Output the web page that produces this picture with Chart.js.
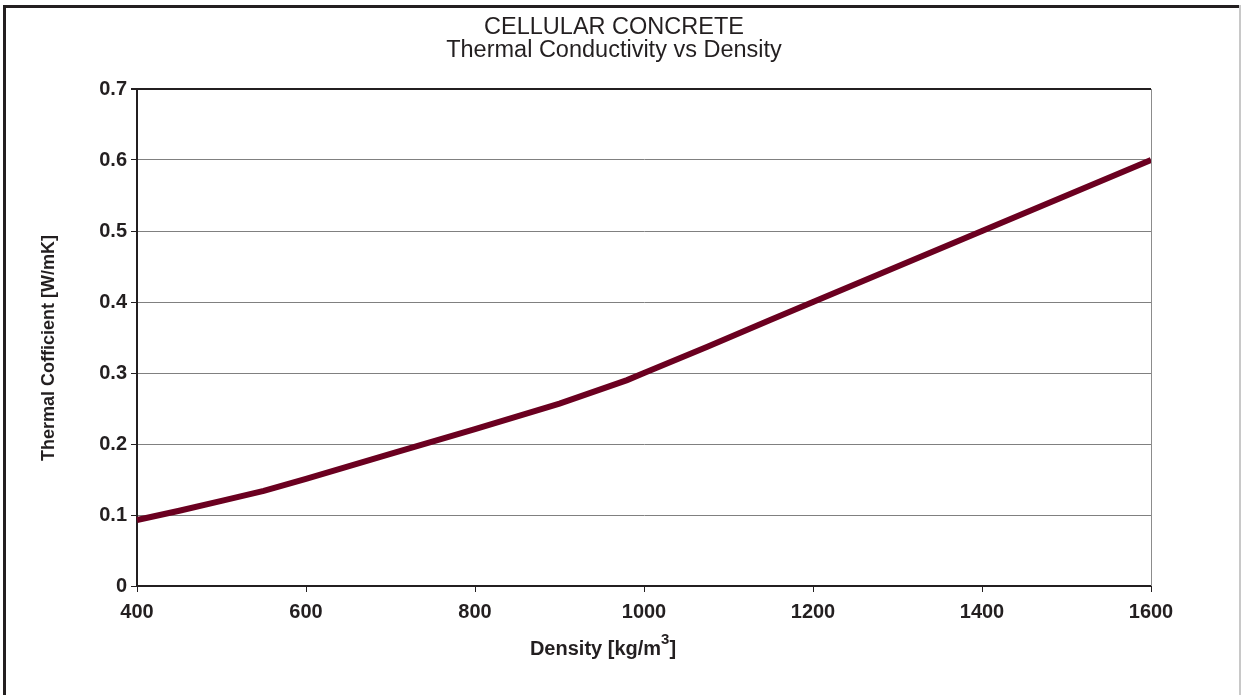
<!DOCTYPE html>
<html>
<head>
<meta charset="utf-8">
<script src="https://cdn.jsdelivr.net/npm/chart.js@4/dist/chart.umd.min.js"></script>
<style>
  html, body { margin: 0; padding: 0; background: #fff; }
  #wrap { position: relative; width: 1241px; height: 695px; }
</style>
</head>
<body>
<div id="wrap"><canvas id="chart" width="1241" height="695"></canvas></div>
<script>
// values
const density = [400, 450, 500, 550, 600, 700, 800, 900, 980, 1000, 1075, 1150, 1200, 1400, 1600];
const conductivity = [0.093, 0.106, 0.12, 0.134, 0.151, 0.186, 0.221, 0.257, 0.29, 0.3, 0.337, 0.375, 0.4, 0.5, 0.6];
const titleLines = ["CELLULAR CONCRETE", "Thermal Conductivity vs Density"];
const yTitle = "Thermal Cofficient [W/mK]";

const ink = "#231f20";
const font = "'Liberation Sans', Arial, sans-serif";

const decor = {
  id: "decor",
  beforeDraw(chart) {
    const ctx = chart.ctx;
    ctx.save();
    ctx.fillStyle = "#fff";
    ctx.fillRect(0, 0, chart.width, chart.height);
    // outer frame
    ctx.fillStyle = ink;
    ctx.fillRect(3, 5, 1238, 3);
    ctx.fillRect(3, 5, 3, 690);
    ctx.fillStyle = "#c8c8c8";
    ctx.fillRect(1239, 5, 2, 690);
    ctx.restore();
  },
  afterDraw(chart) {
    const ctx = chart.ctx;
    const a = chart.chartArea;
    ctx.save();
    // right edge of plot
    ctx.strokeStyle = "#8c8c8c";
    ctx.lineWidth = 1;
    ctx.beginPath();
    ctx.moveTo(Math.round(a.right) + 0.5, a.top);
    ctx.lineTo(Math.round(a.right) + 0.5, a.bottom);
    ctx.stroke();
    // titles
    ctx.fillStyle = ink;
    ctx.textAlign = "center";
    ctx.textBaseline = "middle";
    ctx.font = "23.5px " + font;
    ctx.fillText(titleLines[0], 614, 28);
    ctx.fillText(titleLines[1], 614, 51);
    // x title with superscript
    ctx.font = "bold 20px " + font;
    ctx.textAlign = "left";
    const base = "Density [kg/m";
    const wBase = ctx.measureText(base).width;
    ctx.font = "bold 15px " + font;
    const wSup = ctx.measureText("3").width;
    ctx.font = "bold 20px " + font;
    const wEnd = ctx.measureText("]").width;
    let x0 = 603 - (wBase + wSup + wEnd) / 2;
    ctx.fillText(base, x0, 649);
    ctx.font = "bold 15px " + font;
    ctx.fillText("3", x0 + wBase, 640);
    ctx.font = "bold 20px " + font;
    ctx.fillText("]", x0 + wBase + wSup, 649);
    // y title
    ctx.translate(49, 348);
    ctx.rotate(-Math.PI / 2);
    ctx.textAlign = "center";
    ctx.font = "bold 18px " + font;
    ctx.fillText(yTitle, 0, 0);
    ctx.restore();
  }
};

new Chart(document.getElementById("chart"), {
  type: "line",
  data: {
    datasets: [{
      data: density.map((d, i) => ({ x: d, y: conductivity[i] })),
      borderColor: "#6b0020",
      borderWidth: 6,
      pointRadius: 0,
      tension: 0,
      clip: false,
    }],
  },
  options: {
    responsive: false,
    animation: false,
    layout: { padding: { top: 89, right: 90, left: 0, bottom: 0 } },
    plugins: { legend: { display: false }, title: { display: false }, tooltip: { enabled: false } },
    scales: {
      x: {
        type: "linear",
        min: 400,
        max: 1600,
        afterFit: (s) => { s.height = 109; },
        ticks: { stepSize: 200, color: ink, font: { family: font, size: 20, weight: "bold" }, padding: 8, maxRotation: 0,
          callback: (v) => String(v) },
        grid: { drawOnChartArea: false, drawTicks: true, tickLength: 6, tickColor: ink },
        border: { color: ink, width: 2 },
      },
      y: {
        min: 0,
        max: 0.7,
        afterFit: (s) => { s.width = 137; },
        ticks: { stepSize: 0.1, color: ink, font: { family: font, size: 20, weight: "bold" }, padding: 4,
          callback: (v) => (v === 0 ? "0" : v.toFixed(1)) },
        grid: {
          color: (c) => (c.tick && Math.abs(c.tick.value - 0.7) < 1e-6 ? ink : "#808080"),
          lineWidth: (c) => (c.tick && Math.abs(c.tick.value - 0.7) < 1e-6 ? 2 : 1),
          tickLength: 6,
          tickColor: ink,
        },
        border: { color: ink, width: 2 },
      },
    },
  },
  plugins: [decor],
});
</script>
</body>
</html>
